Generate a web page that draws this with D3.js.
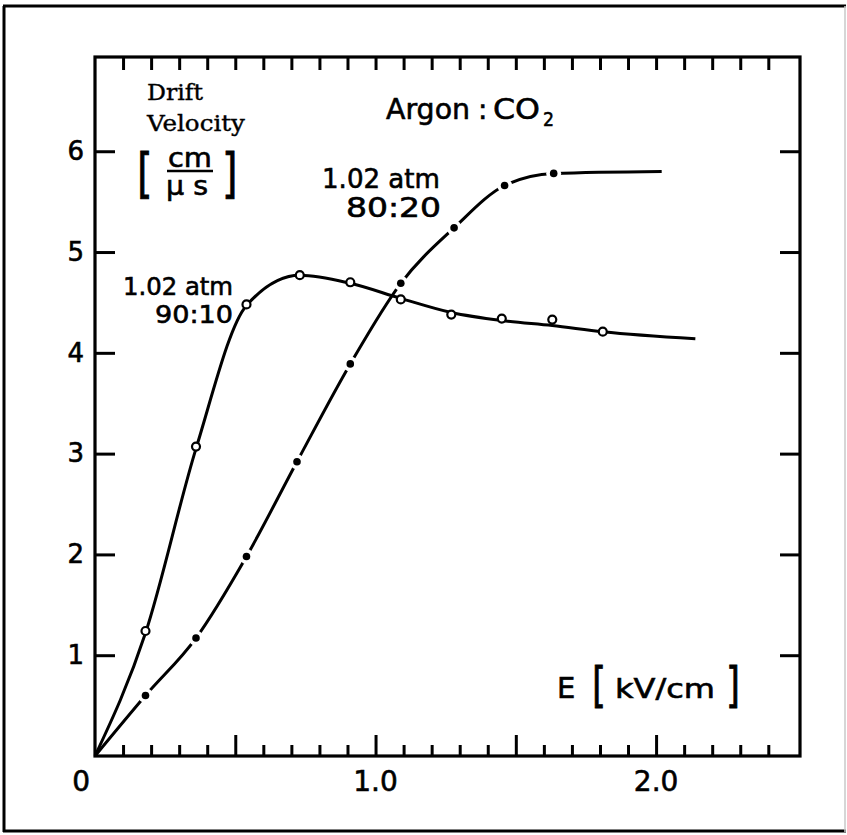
<!DOCTYPE html>
<html>
<head>
<meta charset="utf-8">
<script src="https://cdn.jsdelivr.net/npm/d3@7"></script>
<style>
  body { margin: 0; background: #fff; }
  svg { display: block; }
  .hand { font-family: "DejaVu Sans", sans-serif; fill: #000; stroke: #000; stroke-width: 0.6px; }
  .serif { font-family: "DejaVu Serif", serif; fill: #000; stroke: #000; stroke-width: 0.4px; }
</style>
</head>
<body>
<div id="chart"></div>
<script>
// tick values
const xTicks = [0.1, 0.2, 0.3, 0.4, 0.5, 0.6, 0.7, 0.8, 0.9, 1.0, 1.1, 1.2,
                1.3, 1.4, 1.5, 1.6, 1.7, 1.8, 1.9, 2.0, 2.1, 2.2, 2.3, 2.4];
const xMajorTicks = [0.5, 1.0, 1.5, 2.0];
const xLabelVals = [0, 1.0, 2.0];
const xLabels = ["0", "1.0", "2.0"];
const yTicks = [1, 2, 3, 4, 5, 6];
const yLabels = ["1", "2", "3", "4", "5", "6"];

// 90:10 measured points (open circles)
const field90 = [0.18, 0.36, 0.54, 0.73, 0.91, 1.09, 1.27, 1.45, 1.63, 1.81];
const vel90 = [1.24, 3.07, 4.48, 4.77, 4.70, 4.53, 4.38, 4.34, 4.33, 4.21];
// 90:10 drawn curve
const curveField90 = [0, 0.18, 0.36, 0.54, 0.73, 0.91, 1.09, 1.27, 1.45, 1.63, 1.81, 2.14];
const curveVel90 = [0, 1.22, 3.05, 4.47, 4.77, 4.69, 4.54, 4.40, 4.32, 4.27, 4.21, 4.14];

// 80:20 measured points (filled dots)
const field80 = [0.18, 0.36, 0.54, 0.72, 0.91, 1.09, 1.28, 1.46, 1.635];
const vel80 = [0.60, 1.17, 1.98, 2.92, 3.89, 4.69, 5.24, 5.66, 5.78];
// 80:20 drawn curve
const curveField80 = [0, 0.18, 0.36, 0.54, 0.72, 0.91, 1.09, 1.28, 1.46, 1.635, 2.02];
const curveVel80 = [0, 0.60, 1.17, 1.98, 2.92, 3.89, 4.69, 5.24, 5.66, 5.78, 5.80];

const W = 847, H = 835;
const margin = { top: 57, right: 47, bottom: 79, left: 95 };
const width = W - margin.left - margin.right;
const height = H - margin.top - margin.bottom;

const root = d3.select("#chart").append("svg")
    .attr("width", W)
    .attr("height", H);

// outer frame of the figure
root.append("path")
    .attr("d", `M3,6 H846 M4,6 V832 M3,831 H846`)
    .attr("stroke", "#000").attr("stroke-width", 3).attr("fill", "none");
root.append("line")
    .attr("x1", 845).attr("x2", 845).attr("y1", 6).attr("y2", 832)
    .attr("stroke", "#c8c8c8").attr("stroke-width", 1.5);

const svg = root.append("g")
    .attr("transform", `translate(${margin.left},${margin.top})`);

const x = d3.scaleLinear().domain([0, 2.513]).range([0, width]);
const y = d3.scaleLinear().domain([0, 6.935]).range([height, 0]);

function styleAxis(g) {
    g.select(".domain").remove();
    g.selectAll(".tick line").attr("stroke", "#000").attr("stroke-width", 3);
    g.attr("font-family", null).attr("font-size", null);
}

// bottom ticks (inward)
svg.append("g")
    .attr("transform", `translate(0,${height})`)
    .call(d3.axisBottom(x).tickValues(xTicks).tickSize(-11).tickFormat(""))
    .call(styleAxis)
    .selectAll(".tick line")
    .attr("y2", d => xMajorTicks.includes(d) ? -21 : -11);

// top ticks (inward)
svg.append("g")
    .call(d3.axisTop(x).tickValues(xTicks).tickSize(-13).tickFormat(""))
    .call(styleAxis);

// left axis with labels
svg.append("g")
    .call(d3.axisLeft(y).tickValues(yTicks).tickSize(-20).tickPadding(11)
        .tickFormat((d, i) => yLabels[i]))
    .call(styleAxis)
    .selectAll("text")
    .attr("class", "hand")
    .style("font-size", "26px");

// right ticks
svg.append("g")
    .attr("transform", `translate(${width},0)`)
    .call(d3.axisRight(y).tickValues(yTicks).tickSize(-20).tickFormat(""))
    .call(styleAxis);

// plot frame
svg.append("rect")
    .attr("x", 0).attr("y", 0)
    .attr("width", width).attr("height", height)
    .attr("fill", "none").attr("stroke", "#000").attr("stroke-width", 3.2);

// x labels
svg.selectAll(".xlab")
    .data(xLabelVals)
    .enter()
    .append("text")
    .attr("class", "hand xlab")
    .attr("x", d => d === 0 ? x(d) - 5 : x(d))
    .attr("y", height + 35)
    .attr("text-anchor", d => d === 0 ? "end" : "middle")
    .style("font-size", "28px")
    .text((d, i) => xLabels[i]);

// curves
const line = d3.line()
    .x(d => x(d[0]))
    .y(d => y(d[1]))
    .curve(d3.curveMonotoneX);

svg.append("path")
    .datum(d3.zip(curveField90, curveVel90))
    .attr("d", line)
    .attr("fill", "none").attr("stroke", "#000").attr("stroke-width", 3);

svg.append("path")
    .datum(d3.zip(curveField80, curveVel80))
    .attr("d", line)
    .attr("fill", "none").attr("stroke", "#000").attr("stroke-width", 3);

// gaps around filled dots
const pts80 = d3.zip(field80, vel80);
svg.selectAll(".halo")
    .data(pts80)
    .enter()
    .append("circle")
    .attr("class", "halo")
    .attr("cx", d => x(d[0]))
    .attr("cy", d => y(d[1]))
    .attr("r", 7.5)
    .attr("fill", "#fff");

svg.selectAll(".dot")
    .data(pts80)
    .enter()
    .append("circle")
    .attr("class", "dot")
    .attr("cx", d => x(d[0]))
    .attr("cy", d => y(d[1]))
    .attr("r", 3.8)
    .attr("fill", "#000");

svg.selectAll(".ring")
    .data(d3.zip(field90, vel90))
    .enter()
    .append("circle")
    .attr("class", "ring")
    .attr("cx", d => x(d[0]))
    .attr("cy", d => y(d[1]))
    .attr("r", 4)
    .attr("fill", "#fff")
    .attr("stroke", "#000")
    .attr("stroke-width", 2.2);

// annotations (page coordinates)
const ann = root.append("g");

function label(cls, txt, x0, y0, size, len) {
    const t = ann.append("text").attr("class", cls)
        .attr("x", x0).attr("y", y0)
        .style("font-size", size + "px")
        .text(txt);
    if (len) t.attr("textLength", len).attr("lengthAdjust", "spacingAndGlyphs");
    return t;
}

label("serif", "Drift", 147, 100, 23, 56);
label("serif", "Velocity", 147, 131, 23, 98);

function bracket(ch, x0, yMid, size) {
    ann.append("text").attr("class", "hand")
        .attr("transform", `translate(${x0},${yMid}) scale(1,1.35)`)
        .attr("y", size * 0.3)
        .style("font-size", size + "px")
        .text(ch);
}
bracket("[", 137, 176, 40);
bracket("]", 222, 176, 40);
label("hand", "cm", 168, 167, 27, 44);
ann.append("line")
    .attr("x1", 167).attr("x2", 213).attr("y1", 171).attr("y2", 171)
    .attr("stroke", "#000").attr("stroke-width", 2.5);
label("hand", "μ s", 166, 195, 27, 42);

label("hand", "Argon", 386, 119, 28, 84);
label("hand", ":", 478, 119, 28);
label("hand", "CO", 493, 119, 28, 47);
label("hand", "2", 543, 126, 19, 11);

label("hand", "1.02 atm", 322, 188, 27, 118);
label("hand", "80:20", 346, 217, 26, 95);

label("hand", "1.02 atm", 123, 295, 24, 110);
label("hand", "90:10", 155, 323, 24, 78);

label("hand", "E", 557, 698, 29);
bracket("[", 592, 687, 36);
label("hand", "kV/cm", 615, 698, 27, 100);
bracket("]", 726, 687, 36);
</script>
</body>
</html>
